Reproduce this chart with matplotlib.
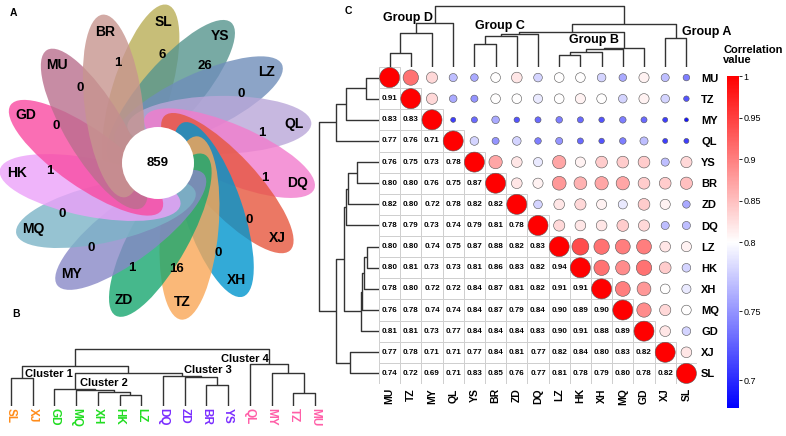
import numpy as np
import matplotlib
matplotlib.use("Agg")
import matplotlib.pyplot as plt
from matplotlib.patches import Ellipse, Circle, Rectangle
from matplotlib.colors import LinearSegmentedColormap, TwoSlopeNorm
from matplotlib.cm import ScalarMappable

plt.rcParams['font.family'] = ['Liberation Sans', 'DejaVu Sans']

# ---- panel A: flower plot ----
petal_names = ["SL", "YS", "LZ", "QL", "DQ", "XJ", "XH", "TZ", "ZD", "MY", "MQ", "HK", "GD", "MU", "BR"]
petal_counts = [6, 26, 0, 1, 1, 0, 0, 16, 1, 0, 0, 1, 0, 0, 1]
core_count = 859
petal_colors = ["#BAAE56", "#56958E", "#6F8EBA", "#BAA7D9", "#F27CCD", "#E6563D", "#0095CD", "#F9A756",
                "#18A76F", "#8888C7", "#7CB4C7", "#ECA1F9", "#F94AA1", "#BA6F8E", "#C7958F"]

# ---- panel B: dendrogram ----
b_order = ["SL", "XJ", "GD", "MQ", "XH", "HK", "LZ", "DQ", "ZD", "BR", "YS", "QL", "MY", "TZ", "MU"]
b_colors = ["#FF8C1A", "#FF8C1A", "#22DD22", "#22DD22", "#22DD22", "#22DD22", "#22DD22",
            "#7B2FFF", "#7B2FFF", "#7B2FFF", "#7B2FFF", "#FF5FA8", "#FF5FA8", "#FF5FA8", "#FF5FA8"]
b_merges = [("SL", "XJ", 27.7), ("HK", "LZ", 11.0), ("XH", 1, 14.3), ("MQ", 2, 16.0), ("GD", 3, 17.0),
            ("BR", "YS", 21.0), ("ZD", 5, 29.3), ("DQ", 6, 30.3), (4, 7, 33.3), (0, 8, 40.0),
            ("TZ", "MU", 12.7), ("MY", 10, 32.7), ("QL", 11, 42.0), (9, 12, 56.7)]

# ---- panel C: correlation matrix ----
c_order = ["MU", "TZ", "MY", "QL", "YS", "BR", "ZD", "DQ", "LZ", "HK", "XH", "MQ", "GD", "XJ", "SL"]
c_lower = [
    [],
    [0.91],
    [0.83, 0.83],
    [0.77, 0.76, 0.71],
    [0.76, 0.75, 0.73, 0.78],
    [0.80, 0.80, 0.76, 0.75, 0.87],
    [0.82, 0.80, 0.72, 0.78, 0.82, 0.82],
    [0.78, 0.79, 0.73, 0.74, 0.79, 0.81, 0.78],
    [0.80, 0.80, 0.74, 0.75, 0.87, 0.88, 0.82, 0.83],
    [0.80, 0.81, 0.73, 0.73, 0.81, 0.86, 0.83, 0.82, 0.94],
    [0.78, 0.80, 0.72, 0.72, 0.84, 0.87, 0.81, 0.82, 0.91, 0.91],
    [0.76, 0.78, 0.74, 0.74, 0.84, 0.87, 0.79, 0.84, 0.90, 0.89, 0.90],
    [0.81, 0.81, 0.73, 0.77, 0.84, 0.84, 0.84, 0.83, 0.90, 0.91, 0.88, 0.89],
    [0.77, 0.78, 0.71, 0.71, 0.77, 0.84, 0.81, 0.77, 0.82, 0.84, 0.80, 0.83, 0.82],
    [0.74, 0.72, 0.69, 0.71, 0.83, 0.85, 0.76, 0.77, 0.81, 0.78, 0.79, 0.80, 0.78, 0.82],
]
c_merges = [("MU", "TZ", 13.5), (0, "MY", 33.5), (1, "QL", 43.5),
            ("YS", "BR", 22.5), (3, "ZD", 31.3), (4, "DQ", 33.0),
            ("LZ", "HK", 12.3), (6, "XH", 14.8), (7, "MQ", 17.5), (8, "GD", 18.5),
            ("XJ", "SL", 29.3), (5, 9, 34.8), (11, 10, 42.8), (2, 12, 60.5)]
cbar_ticks = [0.7, 0.75, 0.8, 0.85, 0.9, 0.95, 1.0]

W, H = 786, 436
fig = plt.figure(figsize=(W / 100, H / 100), dpi=100)


def px_axes(x0, y0, x1, y1):
    a = fig.add_axes([x0 / W, 1 - y1 / H, (x1 - x0) / W, (y1 - y0) / H])
    a.set_axis_off()
    return a


def draw_dendro(ax, order, merges, left=False, color="#333333", lw=1.0):
    pos = {n: i for i, n in enumerate(order)}
    nx, nh = [], []

    def get(item):
        if isinstance(item, str):
            return pos[item], 0.0
        return nx[item], nh[item]

    for a, b, h in merges:
        xa, ha = get(a)
        xb, hb = get(b)
        xs = [xa, xa, xb, xb]
        ys = [ha, h, h, hb]
        if left:
            ax.plot(ys, xs, color=color, lw=lw, solid_capstyle='butt')
        else:
            ax.plot(xs, ys, color=color, lw=lw, solid_capstyle='butt')
        nx.append((xa + xb) / 2)
        nh.append(h)


# ---------- A ----------
axA = px_axes(0, 0, 330, 320)
axA.set_xlim(-158, 172)
axA.set_ylim(-157, 163)
for k, (name, cnt, col) in enumerate(zip(petal_names, petal_counts, petal_colors)):
    phi = np.deg2rad(88 - 24 * k)
    alpha = phi - np.deg2rad(15)
    e, s_tip, a, b = 37, 154, 92, 29
    cx = e * np.cos(alpha + np.pi / 2) + (s_tip - a) * np.cos(alpha)
    cy = e * np.sin(alpha + np.pi / 2) + (s_tip - a) * np.sin(alpha)
    axA.add_patch(Ellipse((cx, cy), 2 * a, 2 * b, angle=np.rad2deg(alpha),
                          facecolor=col, edgecolor='none', alpha=0.8))
for k, (name, cnt) in enumerate(zip(petal_names, petal_counts)):
    phi = np.deg2rad(88 - 24 * k)
    axA.text(108 * np.cos(phi), 108 * np.sin(phi), str(cnt), ha='center', va='center',
             fontsize=9.5, fontweight='bold')
    axA.text(141 * np.cos(phi), 141 * np.sin(phi), name, ha='center', va='center',
             fontsize=10, fontweight='bold')
axA.add_patch(Circle((0, 0), 36, facecolor='white', edgecolor='none'))
axA.text(0, 0, str(core_count), ha='center', va='center', fontsize=9.5, fontweight='bold')

# ---------- B ----------
axB = px_axes(0, 348, 326, 406)
axB.set_xlim(-0.5, 14.5)
axB.set_ylim(0, 58)
draw_dendro(axB, b_order, b_merges)
for i, (n, c) in enumerate(zip(b_order, b_colors)):
    axB.text(i, -2, n, rotation=-90, ha='center', va='top', color=c,
             fontsize=8.5, fontweight='bold')
for lbl, px, py in [("Cluster 1", 25, 374), ("Cluster 2", 80, 383),
                    ("Cluster 3", 184, 370), ("Cluster 4", 221, 359)]:
    axB.text((px - 11) / 21.71, 406 - py, lbl, ha='left', va='center',
             fontsize=8, fontweight='bold')

# ---------- C ----------
n = len(c_order)
vals = np.ones((n, n))
for i, row in enumerate(c_lower):
    for j, v in enumerate(row):
        vals[i, j] = v
        vals[j, i] = v

cmap = LinearSegmentedColormap.from_list('bwr2', ['#0000FF', '#FFFFFF', '#FF0000'])
norm = TwoSlopeNorm(vmin=0.68, vcenter=0.8, vmax=1.0)

axC = fig.add_axes([379 / W, 1 - 384 / H, 318 / W, 317 / H])
axC.set_xlim(-0.5, n - 0.5)
axC.set_ylim(n - 0.5, -0.5)
for s in axC.spines.values():
    s.set_visible(False)
for i in range(n):
    for j in range(i + 1):
        axC.add_patch(Rectangle((j - 0.5, i - 0.5), 1, 1, facecolor='white',
                                edgecolor='#CFCFCF', lw=0.7))
        if j < i:
            axC.text(j, i, f"{vals[i, j]:.2f}", ha='center', va='center',
                     fontsize=5.8, fontweight='bold')
xs, ys, ss, cs = [], [], [], []
for i in range(n):
    for j in range(i, n):
        v = vals[i, j]
        d_px = 20 * (v - 0.6125) / 0.3875
        xs.append(j)
        ys.append(i)
        ss.append((d_px * 0.72) ** 2)
        cs.append(cmap(norm(v)))
axC.scatter(xs, ys, s=ss, c=cs, edgecolors='#555555', linewidths=0.4, zorder=3)
axC.set_xticks(range(n))
axC.set_xticklabels(c_order, rotation=90, fontsize=7.5, fontweight='bold')
axC.set_yticks(range(n))
axC.set_yticklabels(c_order, fontsize=8, fontweight='bold')
axC.yaxis.tick_right()
axC.tick_params(length=0, pad=3)

axCt = px_axes(379, 5, 697, 67)
axCt.set_xlim(-0.5, n - 0.5)
axCt.set_ylim(0, 62)
draw_dendro(axCt, c_order, c_merges)
for lbl, px, py in [("Group D", 383, 18), ("Group C", 475, 26),
                    ("Group B", 569, 40), ("Group A", 682, 32)]:
    axCt.text((px - 379) / 21.2 - 0.5, 67 - py, lbl, ha='left', va='center',
              fontsize=9, fontweight='bold')

axCl = px_axes(317, 67, 379, 384)
axCl.set_ylim(n - 0.5, -0.5)
axCl.set_xlim(62, 0)
draw_dendro(axCl, c_order, c_merges, left=True)

cax = fig.add_axes([727 / W, 1 - 408 / H, 12 / W, 332 / H])
cb = fig.colorbar(ScalarMappable(norm=norm, cmap=cmap), cax=cax, ticks=cbar_ticks)
cb.outline.set_visible(False)
cb.ax.set_yticklabels([f"{t:g}" for t in cbar_ticks])
cb.ax.tick_params(labelsize=6.5, length=2, width=0.6, pad=1)
fig.text(723 / W, 1 - 45 / H, "Correlation\nvalue", ha='left', va='top',
         fontsize=8, fontweight='bold', linespacing=1.05)

# panel letters
fig.text(10 / W, 1 - 13 / H, "A", fontsize=7.5, fontweight='bold', va='center')
fig.text(12 / W, 1 - 314 / H, "B", fontsize=7.5, fontweight='bold', va='center')
fig.text(345 / W, 1 - 11 / H, "C", fontsize=7.5, fontweight='bold', va='center')

fig.savefig("out.png", dpi=100)
